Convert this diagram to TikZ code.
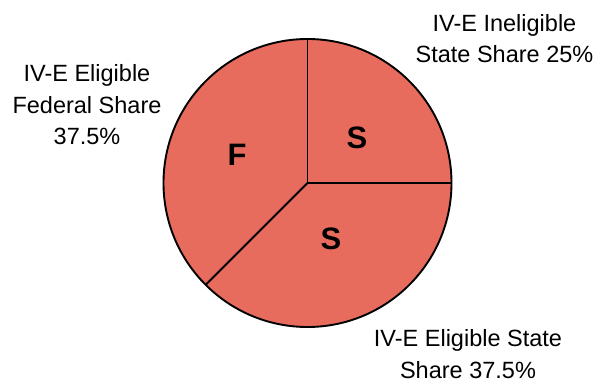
\documentclass[tikz,border=0pt]{standalone}
\usepackage{fontspec}
\usetikzlibrary{calc}
\setmainfont{Liberation Sans}
\definecolor{slice}{RGB}{232,108,94}
\begin{document}
\begin{tikzpicture}[x=1pt,y=-1pt,
  slicestyle/.style={fill=slice,draw=black,line width=1.9pt,line join=round},
  lbl/.style={align=center,inner sep=0pt,font=\fontsize{23.5}{31.5}\selectfont,anchor=base},
  letter/.style={inner sep=0pt,font=\fontsize{31}{31}\selectfont\bfseries}]
\useasboundingbox (0,0) rectangle (600,385);
\coordinate (c) at (307.5,183);
\def\R{144}
\fill[slice] (c) circle[radius=\R];
\draw[slicestyle,fill=none] (c) circle[radius=\R];
\coordinate (top) at ($(c)+(0,-\R)$);
\coordinate (right) at ($(c)+(\R,0)$);
\coordinate (ll) at ($(c)+({-\R*0.7071},{\R*0.7071})$);
\draw[line width=1.9pt,line join=round] (top) -- (c) -- (right);
\draw[line width=1.9pt] (c) -- (ll);
\node[letter] (F) at (237,155) {F};
\node[letter] (S1) at (357,138) {S};
\node[letter] (S2) at (331,239) {S};
\node[lbl] (L1) at (87,145) {IV-E Eligible\\Federal Share\\37.5\%};
\node[lbl] (L2) at (504.5,63) {IV-E Ineligible\\State Share 25\%};
\node[lbl] (L3) at (468,378) {IV-E Eligible State\\Share 37.5\%};
\end{tikzpicture}
\end{document}
